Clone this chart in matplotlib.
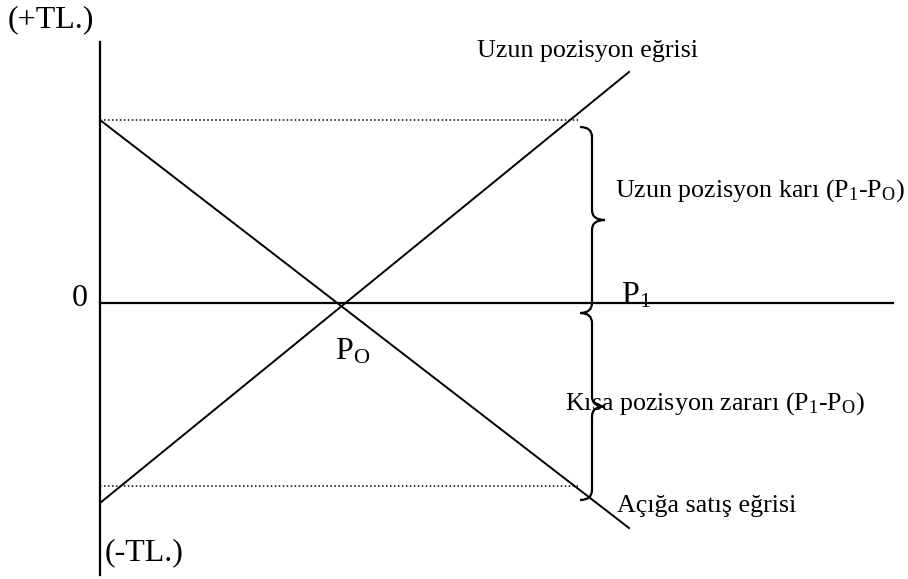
import matplotlib
matplotlib.use("Agg")
import matplotlib.pyplot as plt
from matplotlib.path import Path
from matplotlib.patches import PathPatch

# fonts - Times look
plt.rcParams['font.family'] = ['Liberation Serif', 'DejaVu Serif']
plt.rcParams['mathtext.fontset'] = 'custom'
plt.rcParams['mathtext.rm'] = 'Liberation Serif'
plt.rcParams['mathtext.it'] = 'Liberation Serif:italic'

# data (price on x, profit/loss on y, origin at axis crossing)
price_axis = [0, 793]
pl_axis = [261, -272]
long_x = [0, 529]
long_y = [-200, 231]
short_x = [0, 529]
short_y = [183, -225]
p0 = 242
dotted_levels = [183, -183]
dotted_end = 478
brace_x = 492
brace_spans = [(176, -10), (-10, -197)]


def draw_brace(ax, x, ytop, ybot, w=12, tip=13, r=10):
    ymid = (ytop + ybot) / 2.0
    verts = [(x - w, ytop), (x, ytop), (x, ytop - r),
             (x, ymid + r), (x, ymid), (x + tip, ymid),
             (x, ymid), (x, ymid - r),
             (x, ybot + r), (x, ybot), (x - w, ybot)]
    codes = [Path.MOVETO, Path.CURVE3, Path.CURVE3,
             Path.LINETO, Path.CURVE3, Path.CURVE3,
             Path.CURVE3, Path.CURVE3,
             Path.LINETO, Path.CURVE3, Path.CURVE3]
    ax.add_patch(PathPatch(Path(verts, codes), fill=False, lw=1.6, color='black'))


fig = plt.figure(figsize=(9.08, 5.79), dpi=100)
ax = fig.add_axes([0, 0, 1, 1])
ax.set_xlim(-100, 808)
ax.set_ylim(-276, 303)
ax.axis('off')

# axes of the diagram
ax.plot([0, 0], pl_axis, color='black', lw=1.6)
ax.plot(price_axis, [0, 0], color='black', lw=1.6)

# position curves
ax.plot(long_x, long_y, color='black', lw=1.4)
ax.plot(short_x, short_y, color='black', lw=1.4)

# dotted guides
for lvl in dotted_levels:
    ax.plot([0, dotted_end], [lvl, lvl], color='black', lw=1.1, linestyle=(0, (1, 1.6)))

for top, bot in brace_spans:
    draw_brace(ax, brace_x, top, bot)

big = 23
small = 18.7
ax.text(-92, 283, '(+TL.)', fontsize=big, ha='left', va='center')
ax.text(5, -250, '(-TL.)', fontsize=big, ha='left', va='center')
ax.text(-20, -3, '0', fontsize=big, ha='center', va='baseline')
ax.text(521, 0, r'P$_{1}$', fontsize=big, ha='left', va='baseline')
ax.text(p0 - 7, -57, r'P$_{\mathrm{O}}$', fontsize=big, ha='left', va='baseline')

ax.text(377, 246, 'Uzun pozisyon eğrisi', fontsize=small, ha='left', va='baseline')
ax.text(515, 106, r'Uzun pozisyon karı (P$_{1}$-P$_{\mathrm{O}}$)', fontsize=small, ha='left', va='baseline')
ax.text(465, -107, r'Kısa pozisyon zararı (P$_{1}$-P$_{\mathrm{O}}$)', fontsize=small, ha='left', va='baseline')
ax.text(517, -209, 'Açığa satış eğrisi', fontsize=small, ha='left', va='baseline')

fig.savefig('out.png', dpi=100)
